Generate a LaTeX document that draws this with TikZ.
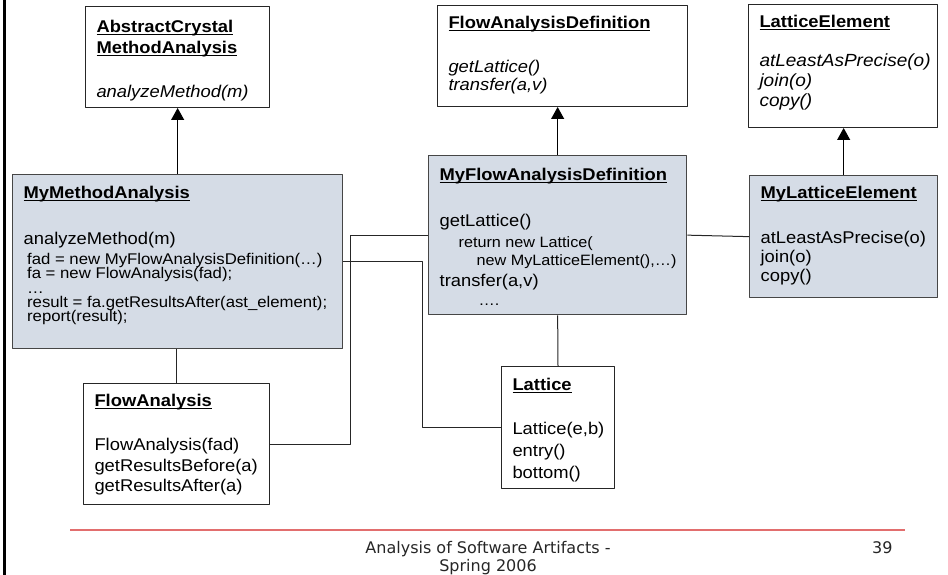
\documentclass[tikz,border=0pt]{standalone}
\usepackage{fontspec}
\setmainfont{Liberation Sans}[FakeStretch=1.08]
\newfontfamily\footfont{DejaVu Sans}
\usetikzlibrary{arrows.meta}
\definecolor{shadefill}{RGB}{213,220,230}
\definecolor{shadeline}{RGB}{70,70,70}
\definecolor{footred}{RGB}{226,110,110}
% underlined class name
\newcommand{\cname}[1]{\setbox0=\hbox{\bfseries #1}\rlap{\rule[-2.6pt]{\wd0}{1.3pt}}\box0}
% class text: width, height, first baseline, baselineskip, lines
\newcommand{\cbody}[5]{\parbox[t][#2pt][t]{#1pt}{\fontsize{17}{#4}\selectfont\lineskiplimit=-100pt\leftskip=11pt\rule{0pt}{#3pt}#5}}
\tikzset{
  plainbox/.style={draw=black!85, line width=1pt, fill=white, inner sep=0pt, anchor=north west},
  shadebox/.style={draw=shadeline, line width=1.3pt, fill=shadefill, inner sep=0pt, anchor=north west},
  inherit/.style={-{Triangle[width=13pt,length=12pt]}, line width=1pt},
  assoc/.style={line width=1pt, black!85}
}
\begin{document}
\begin{tikzpicture}[x=1pt, y=-1pt, line join=round]
  \useasboundingbox (0,0) rectangle (948,575);
  \draw[line width=3pt] (4.5,0) -- (4.5,575);
  % abstract classes
  \node[plainbox] (ama) at (85,6) {\cbody{184}{101}{26}{21}{\cname{AbstractCrystal}\\
    \cname{MethodAnalysis}\\[23pt]\textit{analyzeMethod(m)}}};
  \node[plainbox] (fad) at (437,5) {\cbody{250}{101}{23}{18}{\cname{FlowAnalysisDefinition}\\[26pt]
    \itshape getLattice()\\transfer(a,v)}};
  \node[plainbox] (le) at (748,4) {\cbody{189}{123}{23}{20}{\cname{LatticeElement}\\[19pt]
    \itshape\fontsize{17.6}{20}\selectfont atLeastAsPrecise(o)\\join(o)\\copy()}};
  % user classes
  \node[shadebox] (mma) at (12,174) {\cbody{330}{174}{24}{14.2}{\cname{MyMethodAnalysis}\\[31.8pt]
    analyzeMethod(m)\\[5.8pt]
    \fontsize{15.5}{14.2}\selectfont
    \hspace*{3.5pt}fad = new MyFlowAnalysisDefinition(…)\\
    \hspace*{3.5pt}fa = new FlowAnalysis(fad);\\
    \hspace*{3.5pt}…\\
    \hspace*{3.5pt}result = fa.getResultsAfter(ast\_element);\\
    \hspace*{3.5pt}report(result);}};
  \node[shadebox] (mfad) at (428,155) {\cbody{258}{159}{25}{20}{\cname{MyFlowAnalysisDefinition}\\[26pt]
    getLattice()\\[1pt]
    {\fontsize{15}{20}\selectfont\hspace*{19pt}return new Lattice(}\\[-2pt]
    {\fontsize{15}{20}\selectfont\hspace*{37pt}new MyLatticeElement(),…)}\\[1pt]
    transfer(a,v)\\[-1pt]
    {\fontsize{15}{20}\selectfont\hspace*{39pt}….}}};
  \node[shadebox] (mle) at (749,175) {\cbody{188}{122}{23}{19}{\cname{MyLatticeElement}\\[26pt]
    atLeastAsPrecise(o)\\join(o)\\copy()}};
  % library classes
  \node[plainbox] (fa) at (83,383) {\cbody{186}{121}{23}{20.5}{\cname{FlowAnalysis}\\[23.5pt]
    FlowAnalysis(fad)\\getResultsBefore(a)\\getResultsAfter(a)}};
  \node[plainbox] (lat) at (501,366) {\cbody{113}{122}{24}{22}{\cname{Lattice}\\[22pt]
    Lattice(e,b)\\entry()\\bottom()}};
  % generalisation
  \draw[inherit] (mma.north) -- (mma.north |- ama.south);
  \draw[inherit] (mfad.north) -- (mfad.north |- fad.south);
  \draw[inherit] (mle.north) -- (mle.north |- le.south);
  % uses
  \draw[assoc] (fa.north) -- (fa.north |- mma.south);
  \draw[assoc] (mfad.south) -- (lat.north);
  \draw[assoc] (fa.east) -- ++(80,0) |- (mfad.west);
  \draw[assoc] (mma.east) -- ++(79,0) |- (lat.west);
  \draw[assoc] (mfad.east) -- (mle.west);
  % footer
  \draw[footred, line width=1.5pt] (70,530) -- (905,530);
  \node[anchor=base, font=\footfont\fontsize{16}{18}\selectfont, black!85] (foot1) at (488,553) {Analysis of Software Artifacts -};
  \node[anchor=base, font=\footfont\fontsize{16}{18}\selectfont, black!85] (foot2) at (488,571) {Spring 2006};
  \node[anchor=base east, font=\footfont\fontsize{16}{18}\selectfont, black!85] (pgnum) at (896,553) {39};
\end{tikzpicture}
\end{document}
